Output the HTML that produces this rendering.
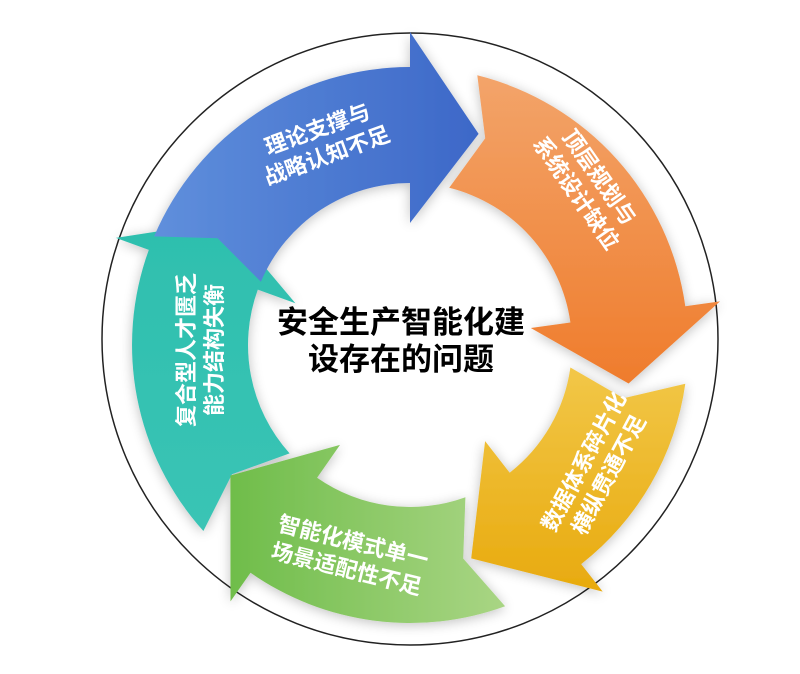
<!DOCTYPE html>
<html><head><meta charset="utf-8">
<style>
html,body{margin:0;padding:0;background:#fff;}
svg{display:block;}
text{font-family:"Liberation Sans","Noto Sans CJK SC",sans-serif;font-weight:bold;}
</style></head>
<body>
<svg id="s" width="800" height="674" viewBox="0 0 800 674" xmlns="http://www.w3.org/2000/svg">
<defs>
<linearGradient id="gb" x1="0" y1="0" x2="1" y2="0"><stop offset="0" stop-color="#5f8fdc"/><stop offset="1" stop-color="#3d68c8"/></linearGradient>
<linearGradient id="go" x1="0" y1="0" x2="0" y2="1"><stop offset="0" stop-color="#f3a46a"/><stop offset="1" stop-color="#ef7c2c"/></linearGradient>
<linearGradient id="gy" x1="0" y1="0" x2="0" y2="1"><stop offset="0" stop-color="#f2c748"/><stop offset="1" stop-color="#e8aa0e"/></linearGradient>
<linearGradient id="gg" x1="0" y1="0" x2="1" y2="0"><stop offset="0" stop-color="#6fbd4a"/><stop offset="1" stop-color="#a9d584"/></linearGradient>
<linearGradient id="gt" x1="0" y1="0" x2="0" y2="1"><stop offset="0" stop-color="#2ebfae"/><stop offset="1" stop-color="#3ac4b5"/></linearGradient>
<filter id="sh" x="-20%" y="-20%" width="140%" height="140%"><feGaussianBlur in="SourceAlpha" stdDeviation="6"/><feOffset dx="0" dy="2"/><feComponentTransfer><feFuncA type="linear" slope="0.25"/></feComponentTransfer><feMerge><feMergeNode/><feMergeNode in="SourceGraphic"/></feMerge></filter>
</defs>
<ellipse cx="410" cy="339" rx="308" ry="306" fill="none" stroke="#222" stroke-width="1.5"/>
<g id="arrows" filter="url(#sh)"></g>
<g fill="#fff" font-size="22">
<text transform="translate(322,142) rotate(-20)" text-anchor="middle"><tspan x="0" y="-6">理论支撑与</tspan><tspan x="0" y="22">战略认知不足</tspan></text>
<text transform="translate(588,185) rotate(55)" text-anchor="middle"><tspan x="0" y="-6">顶层规划与</tspan><tspan x="0" y="22">系统设计缺位</tspan></text>
<text transform="translate(596,468) rotate(-62)" text-anchor="middle"><tspan x="0" y="-6">数据体系碎片化</tspan><tspan x="0" y="22">横纵贯通不足</tspan></text>
<text transform="translate(350,555) rotate(14)" text-anchor="middle"><tspan x="0" y="-6">智能化模式单一</tspan><tspan x="0" y="22">场景适配性不足</tspan></text>
<text transform="translate(200,350) rotate(-90)" text-anchor="middle"><tspan x="0" y="-6">复合型人才匮乏</tspan><tspan x="0" y="22">能力结构失衡</tspan></text>
</g>
<g fill="#000" font-size="31" text-anchor="middle">
<text x="401" y="333">安全生产智能化建</text>
<text x="401" y="370">设存在的问题</text>
</g>
</svg>
<script>
(function(){
var cx=410,cy=345,RO=278,RI=162,HO=313,HI=122,RT=222;
function p(a,r){var t=a*Math.PI/180;return (cx+r*Math.sin(t)).toFixed(1)+","+(cy-r*Math.cos(t)).toFixed(1);}
var arr=[[228,290,304,"gt"],[160,215,234,"gg"],[98,142,164,"gy"],[14,82,100,"go"],[-67,0,18,"gb"]];
var g=document.getElementById("arrows"),h="";
arr.forEach(function(a){
 var T=a[0],H=a[1],P=a[2];
 var d="M"+p(T,RO)+" A"+RO+","+RO+" 0 0 1 "+p(H,RO)+" L"+p(H,HO)+" L"+p(P,RT)+" L"+p(H,HI)+" L"+p(H,RI)+" A"+RI+","+RI+" 0 0 0 "+p(T,RI)+" L"+p(T+6,(RO+RI)/2)+" Z";
 h+='<path d="'+d+'" fill="url(#'+a[3]+')"/>';
});
g.innerHTML=h;
})();
</script>
</body></html>
